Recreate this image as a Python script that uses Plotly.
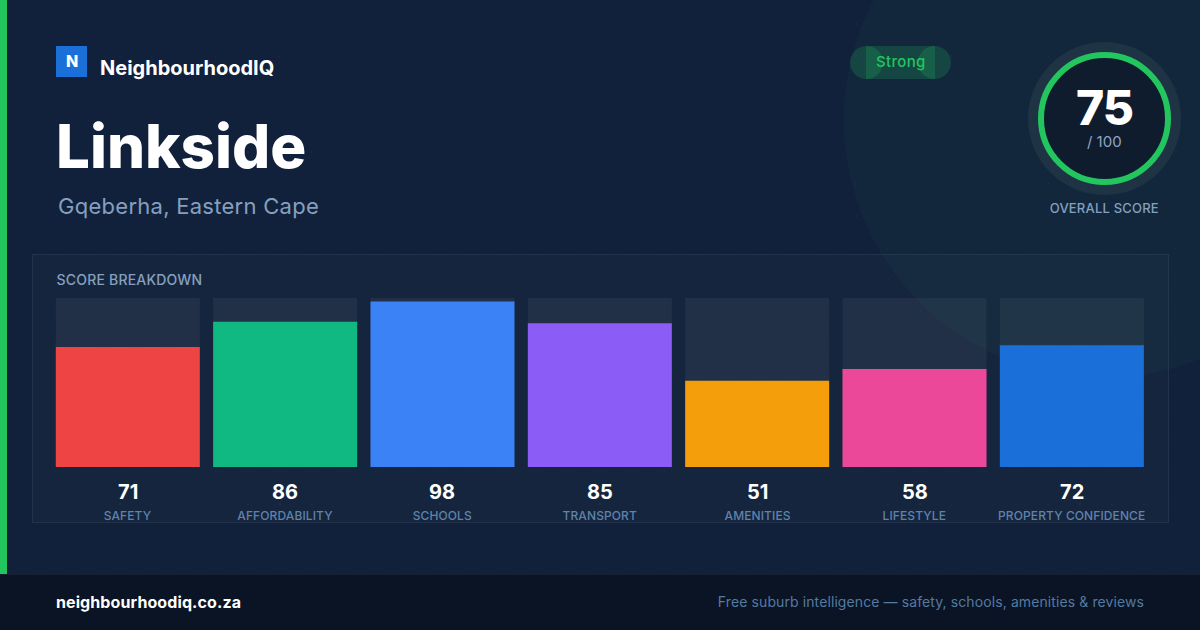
import json

import numpy as np
import plotly.graph_objects as go

categories = ["SAFETY", "AFFORDABILITY", "SCHOOLS", "TRANSPORT", "AMENITIES", "LIFESTYLE", "PROPERTY CONFIDENCE"]
scores = [71, 86, 98, 85, 51, 58, 72]
track = [100, 100, 100, 100, 100, 100, 100]
bar_colors = ["#ef4444", "#10b981", "#3b82f6", "#8b5cf6", "#f59e0b", "#ec4899", "#1a6fd9"]

WHITE = "#ffffff"
GREEN = "#22c55e"
MUTED = "#85a0bf"
LABEL = "#5f83ab"
FONT = "Inter"

# letter-spacing in px, plotly has no font option for it so it goes on in post_script
spacing = {
    "Gqeberha, Eastern Cape": 0.27,
    "Strong": 0.3,
    "75": -1,
    "OVERALL SCORE": 0.2,
    "SCORE BREAKDOWN": 0.2,
    "neighbourhoodiq.co.za": 0.1,
    "Free suburb intelligence — safety, schools, amenities & reviews": 0.1,
}
for cat in categories:
    spacing[cat] = 0.1


def circle(cx, cy, r, fill, line=None, width=0, layer="above"):
    return dict(type="circle", xref="x", yref="y", x0=cx - r, x1=cx + r, y0=cy - r, y1=cy + r,
                fillcolor=fill, line=dict(color=line, width=width) if line else dict(width=0), layer=layer)


def rect(x0, y0, x1, y1, fill, line=None, layer="below"):
    return dict(type="rect", xref="x", yref="y", x0=x0, x1=x1, y0=y0, y1=y1,
                fillcolor=fill, line=dict(color=line, width=1) if line else dict(width=0), layer=layer)


def label(x, y, text, size, color=WHITE, weight=400, anchor="left"):
    return dict(xref="x", yref="y", x=x, y=y, text=text, showarrow=False, xanchor=anchor, yanchor="middle",
                font=dict(family=FONT, size=size, color=color, weight=weight), borderpad=0)


fig = go.Figure()

# faint dot pattern on the pixel axes, under the bars
dot_x, dot_y = np.meshgrid(np.arange(24, 1200, 32), np.arange(24, 574, 32))
fig.add_trace(go.Scatter(
    x=dot_x.ravel(), y=dot_y.ravel(), mode="markers", hoverinfo="skip",
    marker=dict(size=2, symbol="square", color="rgba(255,255,255,0.04)", line=dict(width=0)),
    xaxis="x", yaxis="y"
))
fig.add_trace(go.Bar(
    x=categories, y=track, width=0.9152, marker=dict(color="rgba(255,255,255,0.05)", line=dict(width=0)),
    hoverinfo="skip", xaxis="x2", yaxis="y2"
))
fig.add_trace(go.Bar(
    x=categories, y=scores, width=0.9152, marker=dict(color=bar_colors, line=dict(width=0)),
    xaxis="x2", yaxis="y2"
))

shapes = [
    circle(1102, 120, 258, "rgba(34,197,94,0.04)", layer="below"),
    rect(32.5, 254.5, 1168.5, 522.5, "rgba(255,255,255,0.02)", "rgba(255,255,255,0.07)"),
    rect(0, 0, 7, 574, GREEN),
    rect(0, 574, 1200, 630, "#0a1424"),
    rect(0, 574, 1200, 575, "#17202f"),
    rect(56, 46, 87, 77, "#1a6fd9", layer="above"),
    # pill: the end caps overlap the middle, so the overlap shows up brighter
    circle(866.5, 62.5, 16.5, "rgba(34,197,94,0.2)"),
    circle(934.5, 62.5, 16.5, "rgba(34,197,94,0.2)"),
    rect(866, 46, 935, 79, "rgba(34,197,94,0.2)", layer="above"),
    circle(1104.5, 118.5, 76.5, "#1e3444"),
    circle(1104.5, 118.5, 63.5, "#0f1c2e", GREEN, 6),
]

annotations = [
    label(71.5, 61, "N", 16, weight=800, anchor="center"),
    label(99, 67.5, "NeighbourhoodIQ", 20, weight=700),
    label(55, 145.5, "Linkside", 60, weight=800),
    label(59.5, 206, "Gqeberha, Eastern Cape", 22, MUTED),
    label(900.5, 61, "Strong", 15, GREEN, 500, "center"),
    label(1104.5, 107.5, "75", 48, weight=800, anchor="center"),
    label(1104.5, 141, "/ 100", 15, "#8ea6c4", anchor="center"),
    label(1104.5, 208, "OVERALL SCORE", 13, MUTED, 500, "center"),
    label(57, 279.5, "SCORE BREAKDOWN", 14, MUTED, 500),
    label(56, 601.5, "neighbourhoodiq.co.za", 16, weight=700),
    label(1141.5, 601.5, "Free suburb intelligence — safety, schools, amenities &amp; reviews", 14, "#557aa1", anchor="right"),
]
for cat, score in zip(categories, scores):
    annotations.append(dict(xref="x2", yref="y2", x=cat, y=0, yshift=-25, text=str(score), showarrow=False,
                            yanchor="middle", font=dict(family=FONT, size=20, color=WHITE, weight=700)))
    annotations.append(dict(xref="x2", yref="y2", x=cat, y=0, yshift=-48.5, text=cat, showarrow=False,
                            yanchor="middle", font=dict(family=FONT, size=12, color=LABEL, weight=500)))

fig.update_layout(
    width=1200,
    height=630,
    margin=dict(l=0, r=0, t=0, b=0),
    autosize=False,
    showlegend=False,
    barmode="overlay",
    paper_bgcolor="#12213b",
    plot_bgcolor="rgba(0,0,0,0)",
    shapes=shapes,
    annotations=annotations,
    xaxis=dict(range=[0, 1200], domain=[0, 1], visible=False, fixedrange=True),
    yaxis=dict(range=[630, 0], domain=[0, 1], visible=False, fixedrange=True),
    xaxis2=dict(domain=[49.14 / 1200, 1150.52 / 1200], range=[-0.5, 6.5], anchor="y2", visible=False,
                type="category", categoryorder="array", categoryarray=categories, fixedrange=True),
    yaxis2=dict(domain=[(630 - 467) / 630, (630 - 298) / 630], range=[0, 100], anchor="x2", visible=False,
                fixedrange=True),
)

post_script = """
document.body.style.margin = '0';
var spacing = %s;
document.querySelectorAll('.annotation-text').forEach(function (t) {
    var s = spacing[t.textContent];
    if (s) t.style.letterSpacing = s + 'px';
});
""" % json.dumps(spacing)

fig.write_html("out.html", config={"displayModeBar": False}, post_script=post_script)
